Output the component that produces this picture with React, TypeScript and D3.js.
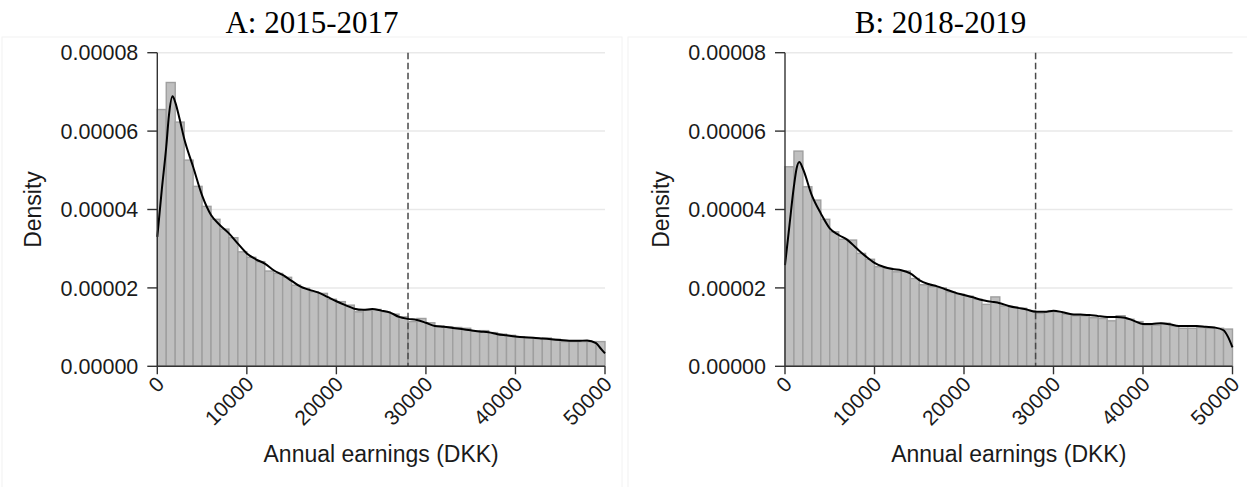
import React from "react";
import * as d3 from "d3";

// Histogram bin densities (×1e-5), 1000 DKK bins from 0 to 50000
const binsA = [
  6.55, 7.24, 6.23, 5.26, 4.59, 4.08, 3.75, 3.5, 3.28, 2.92,
  2.78, 2.67, 2.43, 2.37, 2.27, 2.07, 1.99, 1.9, 1.86, 1.71,
  1.65, 1.56, 1.39, 1.43, 1.45, 1.39, 1.33, 1.26, 1.14, 1.22,
  1.11, 1.03, 1.01, 0.99, 0.97, 0.9, 0.91, 0.86, 0.82, 0.79,
  0.75, 0.73, 0.71, 0.72, 0.69, 0.63, 0.63, 0.63, 0.63, 0.63,
];
const binsB = [
  5.09, 5.49, 4.58, 4.24, 3.75, 3.43, 3.24, 3.22, 2.88, 2.73,
  2.54, 2.5, 2.41, 2.43, 2.24, 2.08, 2.03, 2.0, 1.9, 1.84,
  1.79, 1.71, 1.58, 1.77, 1.54, 1.52, 1.48, 1.42, 1.35, 1.39,
  1.39, 1.33, 1.29, 1.29, 1.24, 1.22, 1.16, 1.29, 1.2, 1.14,
  1.05, 1.05, 1.1, 1.03, 0.97, 0.97, 0.99, 0.97, 0.97, 0.95,
];

// Kernel density estimates: [earnings in 1000 DKK, density ×1e-5]
const kdeA: [number, number][] = [
  [0, 3.3], [0.5, 4.5], [1, 5.6], [1.3, 6.4], [1.7, 6.89], [2, 6.74], [2.5, 6.3],
  [3, 5.81], [4, 5.09], [5, 4.36], [6, 3.86], [7, 3.6], [8, 3.39], [9, 3.13],
  [10, 2.88], [11, 2.73], [12, 2.62], [13, 2.45], [14, 2.33], [15, 2.18],
  [16, 2.03], [17, 1.95], [18, 1.88], [19, 1.77], [20, 1.66], [21, 1.56],
  [22, 1.47], [23, 1.44], [24, 1.46], [25, 1.42], [26, 1.37], [27, 1.26],
  [28, 1.21], [29, 1.18], [30, 1.11], [31, 1.03], [32, 1.01], [33, 0.98],
  [34, 0.95], [35, 0.92], [36, 0.89], [37, 0.87], [38, 0.82], [39, 0.79],
  [40, 0.76], [41, 0.74], [42, 0.73], [43, 0.71], [44, 0.69], [45, 0.67],
  [46, 0.65], [47, 0.65], [48, 0.66], [49, 0.59], [49.5, 0.46], [50, 0.33],
];
const kdeB: [number, number][] = [
  [0, 2.58], [0.5, 3.6], [1, 4.6], [1.3, 5.05], [1.6, 5.21], [2, 5.04],
  [3, 4.36], [4, 3.9], [5, 3.52], [6, 3.35], [7, 3.22], [8, 3.01], [9, 2.81],
  [10, 2.64], [11, 2.54], [12, 2.48], [13, 2.45], [14, 2.37], [15, 2.2],
  [16, 2.1], [17, 2.04], [18, 1.96], [19, 1.88], [20, 1.82], [21, 1.76],
  [22, 1.69], [23, 1.65], [24, 1.61], [25, 1.54], [26, 1.49], [27, 1.45],
  [28, 1.39], [29, 1.39], [30, 1.42], [31, 1.38], [32, 1.33], [33, 1.32],
  [34, 1.31], [35, 1.28], [36, 1.26], [37, 1.26], [38, 1.24], [39, 1.16],
  [40, 1.08], [41, 1.08], [42, 1.1], [43, 1.07], [44, 1.03], [45, 1.03],
  [46, 1.03], [47, 1.01], [48, 0.99], [49, 0.92], [49.5, 0.75], [50, 0.48],
];

const xTicks = [0, 10000, 20000, 30000, 40000, 50000];
const yTicks = [0, 0.00002, 0.00004, 0.00006, 0.00008];
const yTickLabels = ["0.00000", "0.00002", "0.00004", "0.00006", "0.00008"];
const cutoff = 28000;
const binWidth = 1000;
const titles = ["A: 2015-2017", "B: 2018-2019"];

const SANS = "'Liberation Sans', Arial, Helvetica, sans-serif";
const SERIF = "'Liberation Serif', 'Times New Roman', serif";

type PanelProps = {
  title: string;
  bins: number[];
  kde: [number, number][];
  frameX: number;
  frameW: number;
  axisX0: number;
  axisX1: number;
};

function Panel({ title, bins, kde, frameX, frameW, axisX0, axisX1 }: PanelProps) {
  const x = d3.scaleLinear().domain([0, 50000]).range([axisX0, axisX1]);
  const y = d3.scaleLinear().domain([0, 0.00008]).range([366.3, 52.7]);
  const line = d3
    .line<[number, number]>()
    .x((d) => x(d[0] * 1000))
    .y((d) => y(d[1] * 1e-5))
    .curve(d3.curveMonotoneX);

  return (
    <g>
      <rect x={frameX} y={37} width={frameW} height={470} fill="none" stroke="#f2f2f2" strokeWidth={1} />
      <text x={frameX + frameW / 2} y={33} textAnchor="middle" fontFamily={SERIF} fontSize={31} fill="#000">
        {title}
      </text>

      {/* grid */}
      {yTicks.slice(1).map((t) => (
        <line key={t} x1={axisX0} x2={axisX1} y1={y(t)} y2={y(t)} stroke="#e9e9e9" strokeWidth={1.5} />
      ))}

      {/* histogram */}
      {bins.map((v, i) => {
        const x0 = x(i * binWidth);
        const x1 = x((i + 1) * binWidth);
        return (
          <rect
            key={i}
            x={x0}
            y={y(v * 1e-5)}
            width={x1 - x0}
            height={y(0) - y(v * 1e-5)}
            fill="#bfbfbf"
            stroke="#9f9f9f"
            strokeWidth={1.4}
          />
        );
      })}

      {/* cutoff */}
      <line
        x1={x(cutoff)}
        x2={x(cutoff)}
        y1={y(0.00008)}
        y2={y(0)}
        stroke="#4a4a4a"
        strokeWidth={1.5}
        strokeDasharray="6.5,3.5"
      />

      {/* density */}
      <path d={line(kde) || ""} fill="none" stroke="#000" strokeWidth={2} strokeLinejoin="round" />

      {/* y axis */}
      <line x1={axisX0} x2={axisX0} y1={y(0.00008)} y2={y(0)} stroke="#333" strokeWidth={1.4} />
      {yTicks.map((t, i) => (
        <g key={t}>
          <line x1={axisX0 - 10} x2={axisX0} y1={y(t)} y2={y(t)} stroke="#333" strokeWidth={1.4} />
          <text
            x={axisX0 - 19}
            y={y(t)}
            dy="0.36em"
            textAnchor="end"
            fontFamily={SANS}
            fontSize={21.5}
            fill="#1a1a1a"
          >
            {yTickLabels[i]}
          </text>
        </g>
      ))}
      <text
        transform={`translate(${axisX0 - 124},${(y(0) + y(0.00008)) / 2}) rotate(-90)`}
        dy="0.35em"
        textAnchor="middle"
        fontFamily={SANS}
        fontSize={23}
        fill="#1a1a1a"
      >
        Density
      </text>

      {/* x axis */}
      <line x1={axisX0} x2={axisX1} y1={y(0)} y2={y(0)} stroke="#333" strokeWidth={1.4} />
      {xTicks.map((t) => (
        <g key={t}>
          <line x1={x(t)} x2={x(t)} y1={y(0)} y2={y(0) + 8} stroke="#333" strokeWidth={1.4} />
          <text
            transform={`translate(${x(t) + 3},${y(0) + 14}) rotate(-45)`}
            dy="0.35em"
            textAnchor="end"
            fontFamily={SANS}
            fontSize={21}
            fill="#1a1a1a"
          >
            {t}
          </text>
        </g>
      ))}
      <text
        x={(axisX0 + axisX1) / 2}
        y={462}
        textAnchor="middle"
        fontFamily={SANS}
        fontSize={23}
        fill="#1a1a1a"
      >
        Annual earnings (DKK)
      </text>
    </g>
  );
}

export default function App() {
  return (
    <svg
      width={1247}
      height={487}
      style={{ position: "absolute", left: 0, top: 0, background: "#fff" }}
    >
      <rect width={1247} height={487} fill="#fff" />
      <Panel title={titles[0]} bins={binsA} kde={kdeA} frameX={2} frameW={620} axisX0={157.3} axisX1={605} />
      <Panel title={titles[1]} bins={binsB} kde={kdeB} frameX={628} frameW={625} axisX0={785} axisX1={1232.5} />
    </svg>
  );
}
